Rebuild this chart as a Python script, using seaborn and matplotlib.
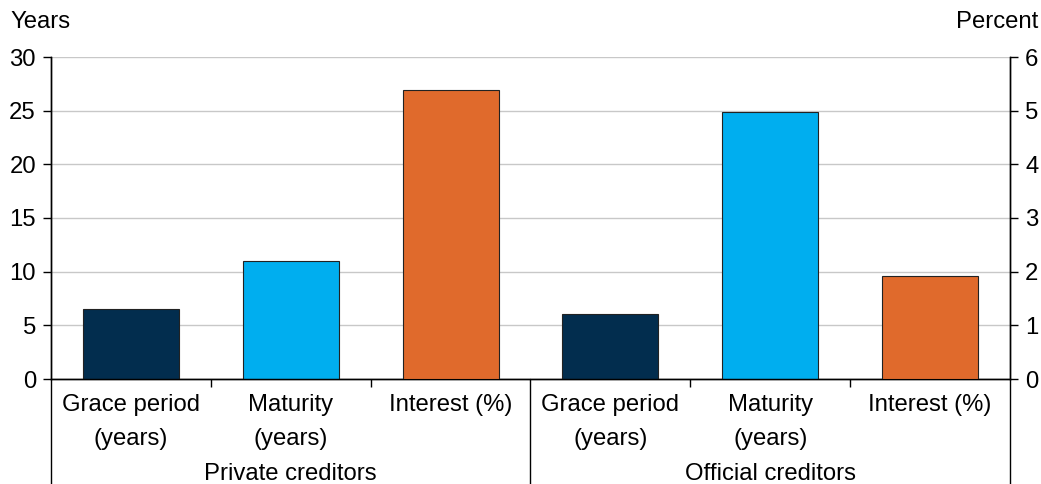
import matplotlib
matplotlib.use("Agg")
import matplotlib.pyplot as plt
import seaborn as sns
import pandas as pd

# ---- data ----
groups = ["Private creditors", "Official creditors"]
measures = ["Grace period\n(years)", "Maturity\n(years)", "Interest (%)"]
grace_years = [6.5, 6.1]        # left axis (years)
maturity_years = [11.0, 24.9]   # left axis (years)
interest_pct = [5.39, 1.92]     # right axis (percent)
left_ticks = [0, 5, 10, 15, 20, 25, 30]
right_ticks = [0, 1, 2, 3, 4, 5, 6]

colors = {"Grace period\n(years)": "#022D4E",
          "Maturity\n(years)": "#00AEEF",
          "Interest (%)": "#E06A2C"}

keys = [f"{g}|{m}" for g in groups for m in measures]

rows_left = []
rows_right = []
for gi, g in enumerate(groups):
    rows_left.append({"key": f"{g}|{measures[0]}", "measure": measures[0], "value": grace_years[gi]})
    rows_left.append({"key": f"{g}|{measures[1]}", "measure": measures[1], "value": maturity_years[gi]})
    rows_right.append({"key": f"{g}|{measures[2]}", "measure": measures[2], "value": interest_pct[gi]})
df_left = pd.DataFrame(rows_left)
df_right = pd.DataFrame(rows_right)

sns.set_theme(style="white")
FONT = ["Liberation Sans", "DejaVu Sans"]
plt.rcParams["font.family"] = FONT
FS = 17.2

fig = plt.figure(figsize=(10.41, 4.84), dpi=100)
ax = fig.add_axes([51/1041, 1-379/484, (1010-51)/1041, (379-57)/484])
ax2 = ax.twinx()

sns.barplot(data=df_left, x="key", y="value", hue="measure", order=keys,
            hue_order=measures, palette=colors, dodge=False, width=0.6,
            saturation=1, edgecolor="#222222", linewidth=0.8, legend=False,
            ax=ax, zorder=3)
sns.barplot(data=df_right, x="key", y="value", hue="measure", order=keys,
            hue_order=measures, palette=colors, dodge=False, width=0.6,
            saturation=1, edgecolor="#222222", linewidth=0.8, legend=False,
            ax=ax2, zorder=3)

ax.set_xlim(-0.5, 5.5)
ax.set_ylim(0, 30)
ax2.set_ylim(0, 6)
ax.set_yticks(left_ticks)
ax2.set_yticks(right_ticks)
ax.set_xlabel("")
ax.set_ylabel("")
ax2.set_ylabel("")
ax.set_xticks([])
ax2.set_xticks([])
ax.set_xticks([0.5, 1.5, 3.5, 4.5], minor=True)
ax.tick_params(axis="x", which="minor", length=5.8, width=1, direction="out",
               color="black", bottom=True)

ax.grid(axis="y", color="#C8C8C8", linewidth=1, zorder=0)
ax.set_axisbelow(True)
ax2.grid(False)

for a in (ax, ax2):
    a.spines["top"].set_visible(False)
    for s in ("left", "right", "bottom"):
        a.spines[s].set_color("black")
        a.spines[s].set_linewidth(1)

ax.tick_params(axis="y", which="major", length=5.8, width=1, direction="out",
               color="black", left=True, labelsize=FS, pad=5, labelcolor="black")
ax2.tick_params(axis="y", which="major", length=5.8, width=1, direction="out",
                color="black", right=True, labelsize=FS, pad=5, labelcolor="black")

# category labels
ax_h = 379 - 57
def ay(py):
    return -(py - 379) / ax_h

xt = ax.get_xaxis_transform()
for i, k in enumerate(keys):
    m = k.split("|")[1]
    lines = m.split("\n")
    for li, line in enumerate(lines):
        ax.text(i, ay(405 + 34 * li), line, transform=xt, ha="center", va="center",
                fontsize=FS, color="black", clip_on=False)

for gi, g in enumerate(groups):
    ax.text(gi * 3 + 1, ay(474), g, transform=xt, ha="center", va="center",
            fontsize=FS, color="black", clip_on=False)

for xs in (-0.5, 2.5, 5.5):
    ax.plot([xs, xs], [0, ay(484)], transform=xt, color="black", lw=1,
            clip_on=False, zorder=5)

fig.text(10/1041, 1-22/484, "Years", ha="left", va="center", fontsize=FS, color="black")
fig.text(1038/1041, 1-22/484, "Percent", ha="right", va="center", fontsize=FS, color="black")

fig.savefig("out.png", dpi=100)
